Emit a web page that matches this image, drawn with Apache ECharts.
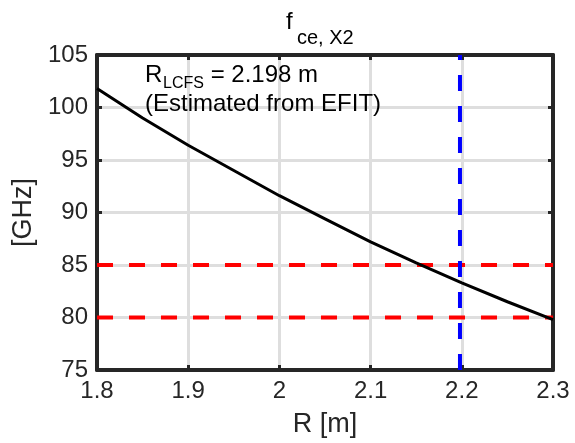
<!DOCTYPE html>
<html>
<head>
<meta charset="utf-8">
<script src="https://cdn.jsdelivr.net/npm/echarts@6/dist/echarts.min.js"></script>
<style>html,body{margin:0;padding:0;background:#fff}#c{width:575px;height:443px}</style>
</head>
<body>
<div id="c"></div>
<script>
// Data
const R = [1.80, 1.85, 1.90, 1.95, 2.00, 2.05, 2.10, 2.15, 2.20, 2.25, 2.30];
const fce = [101.8, 99.0, 96.4, 94.0, 91.6, 89.4, 87.2, 85.2, 83.3, 81.5, 79.8];
const redLevels = [80, 85];
const rLCFS = 2.198;
const xTicks = [1.8, 1.9, 2.0, 2.1, 2.2, 2.3];
const yTicks = [75, 80, 85, 90, 95, 100, 105];

const FONT = "'Liberation Sans', Arial, Helvetica, sans-serif";
const DARK = '#262626';
const chart = echarts.init(document.getElementById('c'), null, {renderer: 'canvas'});

const xMin = xTicks[0], xMax = xTicks[xTicks.length - 1];
const yMin = yTicks[0], yMax = yTicks[yTicks.length - 1];

const series = [];
redLevels.forEach(v => {
  series.push({
    type: 'line', xAxisIndex: 0, yAxisIndex: 0, showSymbol: false, silent: true,
    data: [[xMin, v], [xMax, v]],
    lineStyle: {color: '#ff0000', width: 4, type: [16, 16]}, z: 3
  });
});
series.push({
  type: 'line', xAxisIndex: 0, yAxisIndex: 0, showSymbol: false, silent: true,
  data: [[rLCFS, yMin], [rLCFS, yMax]],
  lineStyle: {color: '#0000ff', width: 4, type: [16, 15]}, z: 3
});
series.push({
  type: 'line', xAxisIndex: 0, yAxisIndex: 0, showSymbol: false, silent: true,
  data: R.map((r, i) => [r, fce[i]]),
  lineStyle: {color: '#000000', width: 3}, z: 4
});

const axisCommon = {
  axisLine: {show: true, lineStyle: {color: DARK, width: 4}},
  axisTick: {show: true, inside: true, length: 5, lineStyle: {color: DARK, width: 3}},
};

chart.setOption({
  animation: false,
  grid: {left: 97, right: 22, top: 55, bottom: 73, containLabel: false},
  xAxis: [
    Object.assign({
      type: 'value', min: xMin, max: xMax, interval: 0.1, position: 'bottom',
      name: 'R [m]', nameLocation: 'middle', nameGap: 41,
      nameTextStyle: {fontFamily: FONT, fontSize: 27, color: DARK},
      axisLabel: {fontFamily: FONT, fontSize: 24, color: DARK, margin: 9,
        formatter: v => String(Math.round(v * 10) / 10)},
      splitLine: {show: true, lineStyle: {color: '#dedede', width: 3}}
    }, axisCommon),
    Object.assign({
      type: 'value', min: xMin, max: xMax, interval: 0.1, position: 'top',
      axisLabel: {show: false}, splitLine: {show: false}
    }, axisCommon)
  ],
  yAxis: [
    Object.assign({
      type: 'value', min: yMin, max: yMax, interval: 5, position: 'left',
      name: '[GHz]', nameLocation: 'middle', nameGap: 58, nameRotate: 90,
      nameTextStyle: {fontFamily: FONT, fontSize: 27, color: DARK},
      axisLabel: {fontFamily: FONT, fontSize: 24, color: DARK, margin: 9},
      splitLine: {show: true, lineStyle: {color: '#dedede', width: 3}}
    }, axisCommon),
    Object.assign({
      type: 'value', min: yMin, max: yMax, interval: 5, position: 'right',
      axisLabel: {show: false}, splitLine: {show: false}
    }, axisCommon)
  ],
  graphic: [
    {type: 'text', left: 286, top: 10, z: 10,
      style: {text: 'f', font: '24px ' + FONT, fill: '#000'}},
    {type: 'text', left: 297, top: 28, z: 10,
      style: {text: 'ce, X2', font: '20px ' + FONT, fill: '#000'}},
    {type: 'text', left: 145, top: 63, z: 10,
      style: {text: 'R', font: '24px ' + FONT, fill: '#000'}},
    {type: 'text', left: 163, top: 76, z: 10,
      style: {text: 'LCFS', font: '16px ' + FONT, fill: '#000'}},
    {type: 'text', left: 204, top: 63, z: 10,
      style: {text: ' = 2.198 m', font: '24px ' + FONT, fill: '#000'}},
    {type: 'text', left: 145, top: 92, z: 10,
      style: {text: '(Estimated from EFIT)', font: '24px ' + FONT, fill: '#000'}}
  ],
  series: series
});
</script>
</body>
</html>
